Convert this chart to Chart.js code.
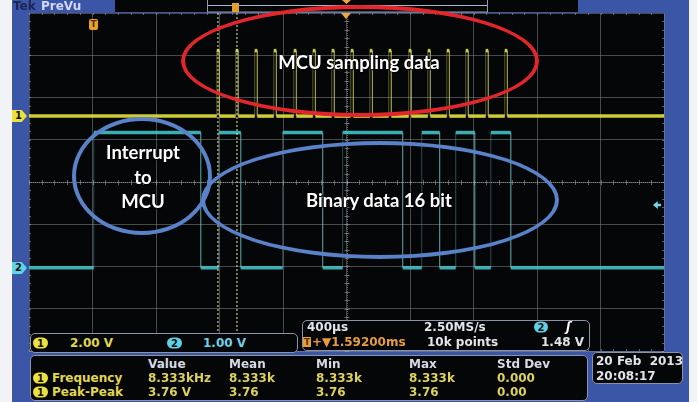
<!DOCTYPE html>
<html>
<head>
<meta charset="utf-8">
<script src="https://cdn.jsdelivr.net/npm/chart.js@4.4.1/dist/chart.umd.min.js"></script>
<style>
  html, body { margin: 0; padding: 0; background: #fff; }
  #wrap { position: relative; width: 697px; height: 402px; overflow: hidden; font-family: "DejaVu Sans", sans-serif; }
  #scope { position: absolute; left: 0; top: 0; }
  .abs { position: absolute; white-space: nowrap; }
  .ring { position: absolute; box-sizing: border-box; border-radius: 50%; }
  .note { position: absolute; transform: translate(-50%, -50%); font-family: Lato, sans-serif; font-weight: 700;
          font-size: 18.5px; color: #fff; text-shadow: 0 0 2px #000, 1px 1px 1px #000; white-space: nowrap; text-align: center; }
  .box { position: absolute; box-sizing: border-box; border: 1.5px solid #8b93a8; border-radius: 5px; background: #050608; }
  .t { position: absolute; white-space: nowrap; font-size: 12px; line-height: 12px; font-weight: bold; transform: translateY(-50%); }
  .badge { position: absolute; box-sizing: border-box; border-radius: 6px; font-size: 10px; line-height: 11px; height: 11px;
           text-align: center; font-weight: bold; color: #111; transform: translateY(-50%); }
  .tag { position: absolute; width: 15px; height: 12px; font-size: 10px; line-height: 12px; font-weight: bold; color: #111;
         padding-left: 3px; box-sizing: border-box; clip-path: polygon(0 0, 65% 0, 100% 50%, 65% 100%, 0 100%); }
</style>
</head>
<body>
<div id="wrap">
  <canvas id="scope" width="697" height="402"></canvas>

  <!-- barra superior -->
  <div class="abs" style="left:13px;top:0;font:bold 12px 'DejaVu Sans';color:#1c2452;line-height:12px">Tek</div>
  <div class="abs" style="left:41px;top:0;font:bold 12px 'DejaVu Sans';color:#d4d8ff;line-height:12px">PreVu</div>
  <div class="abs" style="left:232px;top:3px;width:7px;height:9px;background:#e0a030"></div>
  <div class="abs" style="left:342px;top:0;width:9px;height:4px;background:#f0a83a;clip-path:polygon(0 0,100% 0,50% 100%)"></div>

  <!-- marcadores de canal y disparo -->
  <div class="tag" style="left:12px;top:110px;background:#ece23c">1</div>
  <div class="tag" style="left:12px;top:262px;background:#5fd6e6">2</div>
  <div class="abs" style="left:89px;top:19px;width:9px;height:11px;background:#e8a030;border-radius:2px;font:bold 9px 'DejaVu Sans';line-height:11px;text-align:center;color:#5a3000">T</div>
  <div class="abs" style="left:341px;top:13px;width:10px;height:6px;background:#f0a83a;clip-path:polygon(0 0,100% 0,50% 100%)"></div>
  <div class="abs" style="left:653px;top:201px;width:8px;height:8px;background:#6fd8ea;clip-path:polygon(0 50%,60% 0,60% 35%,100% 35%,100% 65%,60% 65%,60% 100%)"></div>

  <!-- anotaciones -->
  <div class="ring" style="left:181px;top:5px;width:358px;height:112px;border:4px solid #e3262c"></div>
  <div class="ring" style="left:72px;top:117px;width:140px;height:118px;border:4px solid #5a82c9"></div>
  <div class="ring" style="left:201px;top:141px;width:358px;height:118px;border:4px solid #5a82c9"></div>
  <div class="note" style="left:359px;top:62px">MCU sampling data</div>
  <div class="note" style="left:143px;top:152px">Interrupt</div>
  <div class="note" style="left:143px;top:177px">to</div>
  <div class="note" style="left:143px;top:201px">MCU</div>
  <div class="note" style="left:379px;top:200px">Binary data 16 bit</div>

  <!-- escala de canales -->
  <div class="box" style="left:30px;top:333px;width:268px;height:20px"></div>
  <div class="badge" style="left:33px;top:343px;width:15px;background:#ece23c">1</div>
  <div class="t" style="left:70px;top:343px;color:#e0d650">2.00 V</div>
  <div class="badge" style="left:167px;top:343px;width:15px;background:#5fd0e6">2</div>
  <div class="t" style="left:203px;top:343px;color:#70d0e4">1.00 V</div>

  <!-- base de tiempo -->
  <div class="box" style="left:302px;top:320px;width:288px;height:31px"></div>
  <div class="t" style="left:307px;top:327px;color:#e2e4ea">400µs</div>
  <div class="t" style="left:424px;top:327px;color:#e2e4ea">2.50MS/s</div>
  <div class="badge" style="left:534px;top:327px;width:14px;background:#5fd0e6">2</div>
  <div class="t" style="left:566px;top:327px;color:#fff;font-style:italic">ʃ</div>
  <div class="abs" style="left:303px;top:337px;width:8px;height:10px;background:#e8a030;font:bold 9px 'DejaVu Sans';line-height:10px;text-align:center;color:#5a3000">T</div>
  <div class="t" style="left:312px;top:342px;color:#e89c40">+▼1.59200ms</div>
  <div class="t" style="left:427px;top:342px;color:#e2e4ea">10k points</div>
  <div class="t" style="left:541px;top:342px;color:#e2e4ea">1.48 V</div>

  <!-- medidas -->
  <div class="box" style="left:30px;top:355px;width:558px;height:46px"></div>
  <div id="meas"></div>

  <!-- fecha -->
  <div class="box" style="left:592px;top:352px;width:91px;height:32px"></div>
  <div class="t" style="left:596px;top:361px;color:#e2e4ea">20 Feb&nbsp;&nbsp;2013</div>
  <div class="t" style="left:596px;top:376px;color:#e2e4ea">20:08:17</div>
</div>

<script>
// ──────────────────────────────────────────────
//  Ajustes del osciloscopio (leídos de la pantalla)
// ──────────────────────────────────────────────

const US_POR_DIV = 400;        // 400µs/div
const POS_HORIZ_US = 1592;     // 1.59200ms desde el disparo al centro
const CH1_V_DIV = 2.0;
const CH2_V_DIV = 1.0;
const CH1_POS_DIV = 1.56;      // marcador "1"
const CH2_POS_DIV = -2.03;     // marcador "2"

// ──────────────────────────────────────────────
//  Datos (µs relativos al disparo, voltios)
// ──────────────────────────────────────────────

// Canal 1: pulsos de muestreo del MCU
const ch1PulsosUs = [775, 894, 1014, 1134, 1260, 1380, 1499, 1619, 1739, 1858, 1984, 2104, 2224, 2343, 2469, 2589];
const ch1AltoV = 3.1;
const ch1AnchoUs = 16;

// Canal 2: flancos y nivel tras cada flanco
const ch2FlancosUs = [0, 674, 787, 926, 1190, 1442, 1568, 1946, 2066, 2179, 2280, 2400, 2501, 2627];
const ch2NivelesV  = [3.2, 0, 3.2, 0, 3.2, 0, 3.2, 0, 3.2, 0, 3.2, 0, 3.2, 0];

// líneas punteadas verticales
const punteadasUs = [782, 902];

// tabla de medidas
const medCabecera = ['Value', 'Mean', 'Min', 'Max', 'Std Dev'];
const medFilas = [
  { nombre: 'Frequency', valores: ['8.333kHz', '8.333k', '8.333k', '8.333k', '0.000'] },
  { nombre: 'Peak-Peak', valores: ['3.76 V', '3.76', '3.76', '3.76', '0.00'] },
];

// ──────────────────────────────────────────────
//  Helpers
// ──────────────────────────────────────────────

const X_MIN = POS_HORIZ_US - 5 * US_POR_DIV;
const X_MAX = POS_HORIZ_US + 5 * US_POR_DIV;

function trazaCh1() {
  const y0 = CH1_POS_DIV;
  const y1 = CH1_POS_DIV + ch1AltoV / CH1_V_DIV;
  const pts = [{ x: X_MIN, y: y0 }];
  for (const t of ch1PulsosUs) {
    pts.push({ x: t, y: y0 }, { x: t, y: y1 }, { x: t + ch1AnchoUs, y: y1 }, { x: t + ch1AnchoUs, y: y0 });
  }
  pts.push({ x: X_MAX, y: y0 });
  return pts;
}

function trazaCh2() {
  let nivel = 0;
  const pts = [{ x: X_MIN, y: CH2_POS_DIV }];
  ch2FlancosUs.forEach((t, i) => {
    pts.push({ x: t, y: CH2_POS_DIV + nivel / CH2_V_DIV });
    nivel = ch2NivelesV[i];
    pts.push({ x: t, y: CH2_POS_DIV + nivel / CH2_V_DIV });
  });
  pts.push({ x: X_MAX, y: CH2_POS_DIV + nivel / CH2_V_DIV });
  return pts;
}

function lineasPunteadas() {
  const pts = [];
  for (const t of punteadasUs) {
    pts.push({ x: t, y: -4 }, { x: t, y: 4 }, { x: t, y: null });
  }
  return pts;
}

const esVertical = ctx => ctx.p0.parsed.x === ctx.p1.parsed.x;

// ──────────────────────────────────────────────
//  Plugins: marco azul y retícula central
// ──────────────────────────────────────────────

const marco = {
  id: 'marco',
  beforeDraw(chart) {
    const c = chart.ctx, a = chart.chartArea;
    c.save();
    c.fillStyle = '#f2f3f6';
    c.fillRect(0, 0, 697, 402);
    c.fillStyle = '#3b55a7';
    c.fillRect(12, 0, 677, 402);
    c.fillStyle = '#050608';
    c.fillRect(a.left, a.top, a.right - a.left, a.bottom - a.top);
    c.fillRect(115, 0, 463, 12);
    c.strokeStyle = '#8e99b6';
    c.lineWidth = 1;
    c.strokeRect(207.5, -1, 280, 13);
    c.strokeStyle = '#a8b4c8';
    c.beginPath();
    c.moveTo(208, 5.5);
    c.lineTo(487, 5.5);
    c.stroke();
    c.restore();
  },
  beforeDatasetsDraw(chart) {
    const c = chart.ctx, a = chart.chartArea;
    const xs = chart.scales.x, ys = chart.scales.y;
    const cx = xs.getPixelForValue(POS_HORIZ_US), cy = ys.getPixelForValue(0);
    c.save();
    c.strokeStyle = 'rgba(170,170,170,0.55)';
    c.lineWidth = 1;
    c.setLineDash([1, 1]);
    c.beginPath();
    c.moveTo(a.left, Math.round(cy) + 0.5); c.lineTo(a.right, Math.round(cy) + 0.5);
    c.moveTo(Math.round(cx) + 0.5, a.top); c.lineTo(Math.round(cx) + 0.5, a.bottom);
    c.stroke();
    c.setLineDash([]);
    c.beginPath();
    for (let d = -5; d <= 5; d += 0.2) {
      const px = Math.round(xs.getPixelForValue(POS_HORIZ_US + d * US_POR_DIV)) + 0.5;
      c.moveTo(px, cy - 2); c.lineTo(px, cy + 3);
      c.moveTo(px, a.top); c.lineTo(px, a.top + 2);
      c.moveTo(px, a.bottom - 2); c.lineTo(px, a.bottom);
    }
    for (let d = -4; d <= 4; d += 0.2) {
      const py = Math.round(ys.getPixelForValue(d)) + 0.5;
      c.moveTo(cx - 2, py); c.lineTo(cx + 3, py);
      c.moveTo(a.left, py); c.lineTo(a.left + 2, py);
      c.moveTo(a.right - 2, py); c.lineTo(a.right, py);
    }
    c.stroke();
    c.restore();
  },
};

// ──────────────────────────────────────────────
//  Gráfica
// ──────────────────────────────────────────────

new Chart(document.getElementById('scope'), {
  type: 'line',
  data: {
    datasets: [
      {
        data: lineasPunteadas(),
        borderColor: 'rgba(230,225,160,0.7)',
        borderWidth: 1.5,
        borderDash: [2, 2],
        pointRadius: 0,
        spanGaps: false,
      },
      {
        data: trazaCh2(),
        pointRadius: 0,
        borderWidth: 3.5,
        borderColor: 'rgba(66,198,200,0.88)',
        segment: {
          borderWidth: ctx => (esVertical(ctx) ? 1 : 3.5),
          borderColor: ctx => (esVertical(ctx) ? 'rgba(120,210,210,0.35)' : 'rgba(66,198,200,0.88)'),
        },
      },
      {
        data: trazaCh1(),
        pointRadius: 0,
        borderWidth: 3.5,
        borderColor: 'rgba(222,220,60,0.92)',
        segment: {
          borderWidth: ctx => (esVertical(ctx) ? 1 : 3.5),
          borderColor: ctx => (esVertical(ctx) ? 'rgba(220,220,100,0.38)' : 'rgba(222,220,60,0.92)'),
        },
      },
    ],
  },
  options: {
    responsive: false,
    animation: false,
    events: [],
    layout: { padding: { left: 29, right: 33, top: 13, bottom: 51 } },
    plugins: { legend: { display: false }, tooltip: { enabled: false } },
    elements: { line: { tension: 0, borderCapStyle: 'butt' } },
    scales: {
      x: {
        type: 'linear',
        min: X_MIN,
        max: X_MAX,
        afterBuildTicks: s => {
          s.ticks = [];
          for (let d = -5; d <= 5; d++) s.ticks.push({ value: POS_HORIZ_US + d * US_POR_DIV });
        },
        ticks: { display: false },
        border: { display: false },
        grid: { drawTicks: false, color: 'rgba(140,140,140,0.5)', lineWidth: 1, borderDash: [1, 4] },
      },
      y: {
        min: -4,
        max: 4,
        ticks: { display: false, stepSize: 1 },
        border: { display: false },
        grid: { drawTicks: false, color: 'rgba(140,140,140,0.5)', lineWidth: 1, borderDash: [1, 4] },
      },
    },
  },
  plugins: [marco],
});

// ──────────────────────────────────────────────
//  Tabla de medidas
// ──────────────────────────────────────────────

const colX = [148, 229, 316, 409, 497];
const meas = document.getElementById('meas');
let html = '';
medCabecera.forEach((h, i) => {
  html += `<div class="t" style="left:${colX[i]}px;top:364px;color:#d6dae4">${h}</div>`;
});
medFilas.forEach((f, r) => {
  const y = 378 + r * 14;
  html += `<div class="badge" style="left:33px;top:${y}px;width:15px;background:#ece23c">1</div>`;
  html += `<div class="t" style="left:52px;top:${y}px;color:#e0d650">${f.nombre}</div>`;
  f.valores.forEach((v, i) => {
    html += `<div class="t" style="left:${colX[i]}px;top:${y}px;color:#dcd25c">${v}</div>`;
  });
});
meas.innerHTML = html;
</script>
</body>
</html>
